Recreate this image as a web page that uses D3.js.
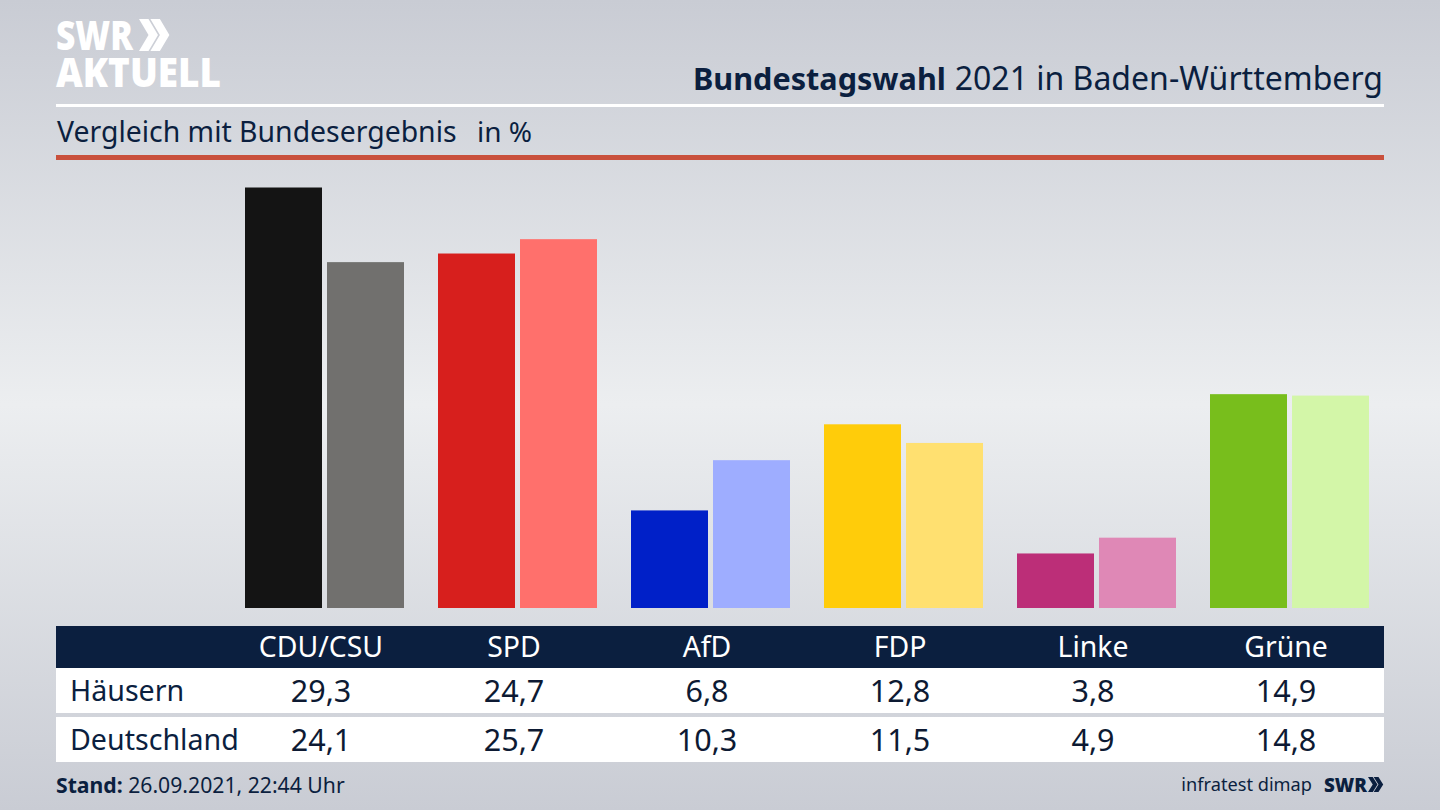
<!DOCTYPE html>
<html>
<head>
<meta charset="utf-8">
<script src="https://cdn.jsdelivr.net/npm/d3@7"></script>
<style>
html, body { margin: 0; padding: 0; background: #d5d8de; overflow: hidden; }
text { font-family: "Noto Sans", "Open Sans", sans-serif; }
</style>
</head>
<body>
<script>
var parties = ["CDU/CSU", "SPD", "AfD", "FDP", "Linke", "Grüne"];
var haeusern = [29.3, 24.7, 6.8, 12.8, 3.8, 14.9];
var deutschland = [24.1, 25.7, 10.3, 11.5, 4.9, 14.8];
var darkColors = ["#141414", "#d71f1d", "#0020c8", "#ffcc0a", "#bc2e78", "#78be1c"];
var lightColors = ["#71706e", "#ff706c", "#9eadff", "#ffe070", "#df88b6", "#d3f6a8"];

var width = 1440, height = 810;
var navy = "#0b1f3f";

var svg = d3.select("body").append("svg")
	.attr("width", width)
	.attr("height", height)
	.style("display", "block");

var defs = svg.append("defs");
var bg = defs.append("linearGradient").attr("id", "bg")
	.attr("x1", 0).attr("y1", 0).attr("x2", 0).attr("y2", 1);
bg.append("stop").attr("offset", "0%").attr("stop-color", "#c9ccd4");
bg.append("stop").attr("offset", "50%").attr("stop-color", "#eceef0");
bg.append("stop").attr("offset", "100%").attr("stop-color", "#c9ccd4");
svg.append("rect").attr("width", width).attr("height", height).attr("fill", "url(#bg)");

// logo
var logo = svg.append("text").attr("fill", "#fff").attr("font-size", 40).attr("font-weight", 900);
logo.append("tspan").attr("x", 56).attr("y", 49.5)
	.attr("textLength", 77).attr("lengthAdjust", "spacingAndGlyphs").text("SWR");
logo.append("tspan").attr("x", 56).attr("y", 87)
	.attr("textLength", 165).attr("lengthAdjust", "spacingAndGlyphs").text("AKTUELL");
function chevrons(x, y, h, w, fill) {
	[0, 1].forEach(function (i) {
		var x0 = x + i * w * 0.6;
		svg.append("path")
			.attr("d", d3.line()([[x0, y], [x0 + w * 0.5, y], [x0 + w, y + h / 2], [x0 + w * 0.5, y + h], [x0, y + h], [x0 + w * 0.5, y + h / 2]]) + "Z")
			.attr("fill", fill);
	});
}
chevrons(139, 19, 32, 19, "#fff");

// header
svg.append("text").attr("x", 693).attr("y", 90)
	.attr("fill", navy).attr("font-size", 30.6).attr("font-weight", 700).text("Bundestagswahl");
svg.append("text").attr("x", 1383).attr("y", 90).attr("text-anchor", "end")
	.attr("fill", navy).attr("font-size", 32).text("2021 in Baden-Württemberg");
svg.append("rect").attr("x", 56).attr("y", 104).attr("width", 1328).attr("height", 3).attr("fill", "#fff");
svg.append("text").attr("x", 57).attr("y", 142).attr("fill", navy).attr("font-size", 28.4)
	.text("Vergleich mit Bundesergebnis");
svg.append("text").attr("x", 477).attr("y", 142).attr("fill", navy).attr("font-size", 28).text("in %");
svg.append("rect").attr("x", 56).attr("y", 155).attr("width", 1328).attr("height", 5).attr("fill", "#c9503c");

// bars
var x = d3.scaleBand().domain(parties).range([228, 1386]).paddingInner(0).paddingOuter(0);
var y = d3.scaleLinear().domain([0, 29.3]).range([608, 187.5]);
var barW = 77;
var groups = svg.selectAll("g.party").data(parties).enter().append("g")
	.attr("class", "party")
	.attr("transform", function (d) { return "translate(" + x(d) + ",0)"; });
groups.append("rect")
	.attr("x", 17)
	.attr("width", barW)
	.attr("y", function (d, i) { return y(haeusern[i]); })
	.attr("height", function (d, i) { return y(0) - y(haeusern[i]); })
	.attr("fill", function (d, i) { return darkColors[i]; });
groups.append("rect")
	.attr("x", 99)
	.attr("width", barW)
	.attr("y", function (d, i) { return y(deutschland[i]); })
	.attr("height", function (d, i) { return y(0) - y(deutschland[i]); })
	.attr("fill", function (d, i) { return lightColors[i]; });

// table
svg.append("rect").attr("x", 56).attr("y", 626).attr("width", 1328).attr("height", 42).attr("fill", navy);
svg.append("rect").attr("x", 56).attr("y", 668).attr("width", 1328).attr("height", 45).attr("fill", "#fff");
svg.append("rect").attr("x", 56).attr("y", 717).attr("width", 1328).attr("height", 45).attr("fill", "#fff");

function fmt(v) { return v.toFixed(1).replace(".", ","); }
function colX(d) { return x(d) + 93; }
svg.selectAll("text.head").data(parties).enter().append("text")
	.attr("class", "head").attr("x", colX).attr("y", 657)
	.attr("text-anchor", "middle").attr("fill", "#fff").attr("font-size", 28.4).text(function (d) { return d; });
[["Häusern", haeusern, 701], ["Deutschland", deutschland, 750]].forEach(function (row) {
	svg.append("text").attr("x", 70).attr("y", row[2]).attr("fill", navy).attr("font-size", 28.6).text(row[0]);
	svg.selectAll("text.v" + row[2]).data(parties).enter().append("text")
		.attr("class", "v" + row[2]).attr("x", colX).attr("y", row[2] + 1)
		.attr("text-anchor", "middle").attr("fill", "#0d1a33").attr("font-size", 30.5)
		.text(function (d, i) { return fmt(row[1][i]); });
});

// footer
var stand = svg.append("text").attr("x", 56).attr("y", 793).attr("fill", navy).attr("font-size", 21.2);
stand.append("tspan").attr("font-weight", 700).text("Stand:");
stand.append("tspan").text(" 26.09.2021, 22:44 Uhr");
svg.append("text").attr("x", 1312).attr("y", 791).attr("text-anchor", "end").attr("fill", navy).attr("font-size", 18.2).text("infratest dimap");
svg.append("text").attr("x", 1324).attr("y", 792).attr("fill", navy).attr("font-size", 20).attr("font-weight", 900)
	.attr("textLength", 43).attr("lengthAdjust", "spacingAndGlyphs").text("SWR");
chevrons(1368, 777, 15, 9.5, navy);
</script>
</body>
</html>
